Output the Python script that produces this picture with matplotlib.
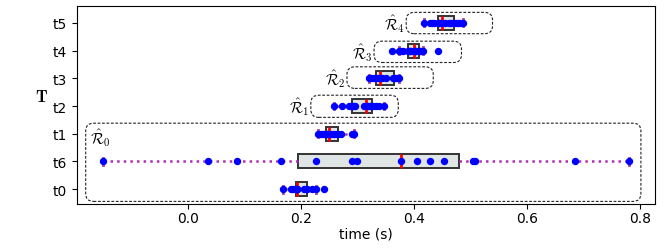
import matplotlib
matplotlib.use('Agg')
import matplotlib.pyplot as plt
from matplotlib.patches import FancyBboxPatch

plt.rcParams['mathtext.fontset'] = 'cm'

# rows from bottom to top
tasks = ['t0', 't6', 't1', 't2', 't3', 't4', 't5']

t0 = [0.167, 0.182, 0.186, 0.190, 0.191, 0.192, 0.192, 0.193, 0.205, 0.208,
      0.211, 0.219, 0.226, 0.241]
t6 = [-0.152, 0.035, 0.087, 0.164, 0.226, 0.290, 0.298, 0.377, 0.406, 0.428,
      0.453, 0.505, 0.508, 0.685, 0.781]
t1 = [0.229, 0.233, 0.237, 0.241, 0.245, 0.246, 0.248, 0.250, 0.253, 0.258,
      0.263, 0.266, 0.270, 0.290, 0.294]
t2 = [0.258, 0.272, 0.285, 0.288, 0.290, 0.292, 0.296, 0.312, 0.316, 0.318,
      0.321, 0.324, 0.328, 0.333, 0.338, 0.346]
t3 = [0.320, 0.324, 0.327, 0.331, 0.333, 0.336, 0.338, 0.340, 0.344, 0.350,
      0.363, 0.366, 0.368, 0.371, 0.373]
t4 = [0.361, 0.373, 0.377, 0.381, 0.390, 0.391, 0.393, 0.395, 0.400, 0.401,
      0.402, 0.404, 0.408, 0.410, 0.412, 0.415, 0.443]
t5 = [0.418, 0.428, 0.432, 0.436, 0.443, 0.444, 0.445, 0.448, 0.450, 0.455,
      0.462, 0.466, 0.470, 0.474, 0.478, 0.482, 0.487]
times = [t0, t6, t1, t2, t3, t4, t5]

region_names = [r'$\hat{\mathcal{R}}_0$', r'$\hat{\mathcal{R}}_1$', r'$\hat{\mathcal{R}}_2$',
                r'$\hat{\mathcal{R}}_3$', r'$\hat{\mathcal{R}}_4$']
# dashed region frames: x0, x1, y0, y1
region_boxes = [(-0.182, 0.802, 0.556, 3.38),
                (0.217, 0.372, 3.59, 4.39),
                (0.281, 0.434, 4.635, 5.415),
                (0.329, 0.484, 5.57, 6.34),
                (0.386, 0.539, 6.61, 7.38)]

fig = plt.figure(figsize=(6.65, 2.51), dpi=100)
ax = fig.add_axes([0.1153, 0.183, 0.985 - 0.1153, 0.971 - 0.183])

pos = list(range(1, len(tasks) + 1))
ax.boxplot(times, positions=pos, vert=False, widths=0.5, showfliers=False,
           patch_artist=True,
           boxprops=dict(facecolor='#dfe5e5', edgecolor='#333333', linewidth=1.4),
           medianprops=dict(color='red', linewidth=2),
           whiskerprops=dict(color='#b030b0', linestyle=':', linewidth=1.8),
           capprops=dict(color='#a040a0', linewidth=2))

for p, d in zip(pos, times):
    ax.plot(d, [p] * len(d), 'o', color='blue', markersize=4.3, zorder=4)

ax.set_yticks(pos)
ax.set_yticklabels(tasks)
ax.set_xlim(-0.198, 0.827)
ax.set_ylim(0.46, 7.6)
ax.set_xticks([0.0, 0.2, 0.4, 0.6, 0.8])
ax.tick_params(axis='x', pad=1.5)
ax.set_xlabel('time (s)', labelpad=1)
ax.set_ylabel(r'$\mathbf{T}$', rotation=0, fontsize=12, labelpad=8)

# pixel aspect so the rounded corners stay round
fig.canvas.draw()
(x_a, y_a), (x_b, y_b) = ax.transData.transform([(0, 0), (1, 1)])
aspect = (x_b - x_a) / (y_b - y_a)

for i, (x0, x1, y0, y1) in enumerate(region_boxes):
    box = FancyBboxPatch((x0, y0), x1 - x0, y1 - y0,
                         boxstyle='round,pad=0,rounding_size=0.014',
                         mutation_aspect=aspect, fill=False,
                         edgecolor='#222222', linewidth=0.8,
                         linestyle=(0, (2.5, 1.5)), zorder=1)
    ax.add_patch(box)
    if i == 0:
        ax.text(x0 + 0.008, y1 - 0.12, region_names[i], ha='left', va='top', fontsize=11)
    else:
        ax.text(x0 - 0.003, (y0 + y1) / 2, region_names[i], ha='right', va='center', fontsize=11)

fig.savefig('out.png', dpi=100)
